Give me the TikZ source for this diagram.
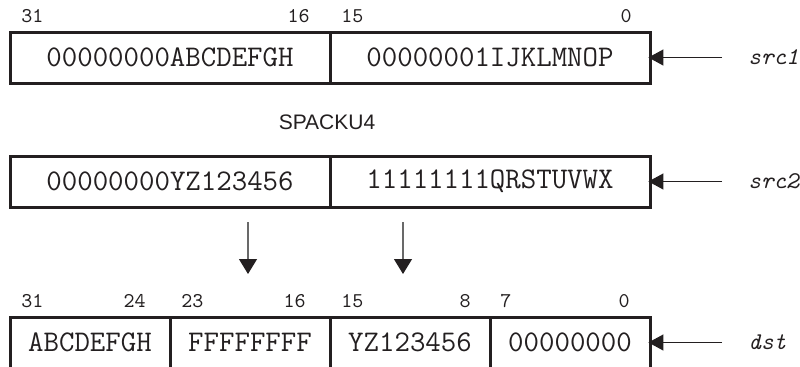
\documentclass[tikz,border=0pt]{standalone}
\usepackage{fontspec}
\setmainfont{Liberation Sans}
\setsansfont{Liberation Sans}
\usepackage{tikz}
\usetikzlibrary{arrows.meta, positioning}
\definecolor{ink}{RGB}{35, 31, 32}
\definecolor{shaftgray}{RGB}{105, 105, 105}

\begin{document}
\begin{tikzpicture}[
    x=0.5pt, y=-0.5pt,
    node distance=0pt,
    every node/.style={text=ink},
    half/.style={draw=ink, line width=1.5pt, minimum width=160pt, minimum height=25.5pt, inner sep=0pt, outer sep=0pt, font=\fontsize{15}{17}\selectfont\ttfamily},
    quarter/.style={half, minimum width=80pt},
    bitnum/.style={inner sep=0pt, font=\fontsize{10.5}{12}\selectfont\ttfamily},
    regname/.style={inner sep=0pt, anchor=west, font=\fontsize{12}{14}\selectfont\ttfamily\itshape},
    inarr/.style={-{Triangle[length=7.5pt, width=8pt]}, line width=0.6pt, draw=ink, shorten <=13pt, shorten >=-0.8pt},
    downarr/.style={-{Triangle[length=7.5pt, width=9pt, color=ink]}, line width=0.6pt, draw=shaftgray}
]
\useasboundingbox (0,0) rectangle (800,366);

% src1 register
\node[half, anchor=north west] (s1hi) at (10,32) {00000000ABCDEFGH};
\node[half, right=of s1hi] (s1lo) {00000001IJKLMNOP};
\node[bitnum, anchor=west] (s1b31) at ([xshift=5.5pt, yshift=8pt]s1hi.north west) {31};
\node[bitnum, anchor=east] (s1b16) at ([xshift=-10pt, yshift=8pt]s1hi.north east) {16};
\node[bitnum, anchor=west] (s1b15) at ([xshift=5.5pt, yshift=8pt]s1lo.north west) {15};
\node[bitnum, anchor=east] (s1b0) at ([xshift=-9pt, yshift=8pt]s1lo.north east) {0};
\node[regname] (src1) at ([xshift=49pt]s1lo.east) {src1};

% instruction name
\node[font=\fontsize{10.5}{12}\selectfont\sffamily] (op) at (327,122) {SPACKU4};

% src2 register
\node[half, anchor=north west] (s2hi) at (10,156) {00000000YZ123456};
\node[half, right=of s2hi] (s2lo) {11111111QRSTUVWX};
\node[regname] (src2) at ([xshift=49pt]s2lo.east) {src2};

% dst register
\node[quarter, anchor=north west] (d3) at (10,317) {ABCDEFGH};
\node[quarter, right=of d3] (d2) {FFFFFFFF};
\node[quarter, right=of d2] (d1) {YZ123456};
\node[quarter, right=of d1] (d0) {00000000};
\node[bitnum, anchor=west] (db31) at ([xshift=5.5pt, yshift=8pt]d3.north west) {31};
\node[bitnum, anchor=east] (db24) at ([xshift=-12pt, yshift=8pt]d3.north east) {24};
\node[bitnum, anchor=west] (db23) at ([xshift=5.5pt, yshift=8pt]d2.north west) {23};
\node[bitnum, anchor=east] (db16) at ([xshift=-12pt, yshift=8pt]d2.north east) {16};
\node[bitnum, anchor=west] (db15) at ([xshift=5.5pt, yshift=8pt]d1.north west) {15};
\node[bitnum, anchor=east] (db8) at ([xshift=-9.5pt, yshift=8pt]d1.north east) {8};
\node[bitnum, anchor=west] (db7) at ([xshift=5pt, yshift=8pt]d0.north west) {7};
\node[bitnum, anchor=east] (db0) at ([xshift=-10pt, yshift=8pt]d0.north east) {0};
\node[regname] (dst) at ([xshift=49pt]d0.east) {dst};

% free arrows between src2 and dst
\coordinate (hiTop) at (248,222);
\coordinate (hiTip) at (248,274);
\coordinate (loTop) at (403,222);
\coordinate (loTip) at (403,274);

% connectors
\draw[inarr] (src1.west) -- (s1lo.east);
\draw[inarr] (src2.west) -- (s2lo.east);
\draw[inarr] (dst.west) -- (d0.east);
\draw[downarr] (hiTop) -- (hiTip);
\draw[downarr] (loTop) -- (loTip);

\end{tikzpicture}
\end{document}
